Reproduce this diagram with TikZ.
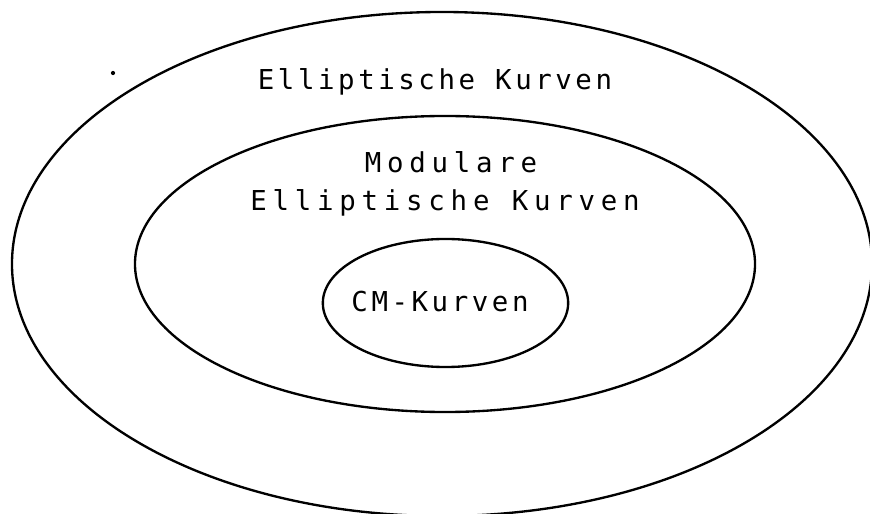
\documentclass[tikz,border=0pt]{standalone}
\usepackage{fontspec}
\newfontfamily\plotfont[LetterSpace=13]{DejaVu Sans Mono}
\usetikzlibrary{positioning}

\begin{document}
\begin{tikzpicture}[
  x=0.03cm, y=-0.03cm,
  font=\plotfont\fontsize{23.4}{28}\selectfont,
  ring/.style={draw=black, line width=2pt},
  lbl/.style={inner sep=0pt, anchor=base},
  widelbl/.style={lbl, font=\plotfont\fontsize{23.4}{28}\selectfont\addfontfeature{LetterSpace=21}},
]
\useasboundingbox (0,0) rectangle (870,514);
\clip (0,0) rectangle (870,514);

% Rings (outer, middle, inner)
\draw[ring] (442,264) ellipse [x radius=12.9cm, y radius=7.56cm];
\draw[ring] (445,264) ellipse [x radius=9.3cm, y radius=4.44cm];
\draw[ring] (445.5,303) ellipse [x radius=3.68cm, y radius=1.92cm];

% Labels
\node[lbl] (ell)  at (435,90)  {Elliptische Kurven};
\node[widelbl] (mod)  at (451,173) {Modulare};
\node[widelbl] (mell) at (445,211) {Elliptische Kurven};
\node[lbl] (cm)   at (440,312) {CM-Kurven};

% speck
\fill (113,73) circle [radius=1.8pt];
\end{tikzpicture}
\end{document}
